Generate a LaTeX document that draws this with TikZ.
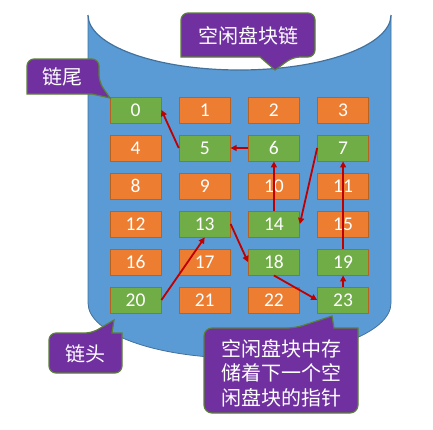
\documentclass[tikz,border=0pt]{standalone}
\usepackage{fontspec}
\setmainfont{Carlito}
\newfontfamily\cjk{Noto Sans CJK SC}
\usepackage{xcolor}
\usepackage{tikz}
\usetikzlibrary{arrows.meta}
\usetikzlibrary{positioning}

\definecolor{cylblue}{HTML}{5B9BD5}
\definecolor{cyledge}{HTML}{41719C}
\definecolor{usedorange}{HTML}{ED7D31}
\definecolor{freegreen}{HTML}{70AD47}
\definecolor{blkedge}{HTML}{B9611F}
\definecolor{notepurple}{HTML}{7030A0}
\definecolor{noteedge}{HTML}{5B7F3A}
\definecolor{linkred}{HTML}{C00000}

\begin{document}
\begin{tikzpicture}[x=1pt, y=-1pt,
    blk/.style={draw=blkedge, line width=0.9pt, minimum width=51pt, minimum height=26pt,
      inner sep=0pt, text=white, font=\fontsize{19.5}{21}\selectfont},
    usedblk/.style={blk, fill=usedorange},
    freeblk/.style={blk, fill=freegreen},
    link/.style={draw=linkred, line width=1.8pt, -{Triangle[length=6pt,width=6pt]}},
    note/.style={fill=notepurple, draw=noteedge, line width=1.2pt},
    notetext/.style={text=white, font=\cjk\fontsize{20}{24.5}\selectfont, align=center}]
  \useasboundingbox (0,0) rectangle (433,429);

  % the cylinder
  \fill[cylblue] (88,15) -- (88,303) arc[start angle=180, end angle=0, x radius=151.5, y radius=55]
    -- (391,15) -- cycle;
  \draw[cyledge, line width=0.8pt] (88,15) -- (88,303) arc[start angle=180, end angle=0, x radius=151.5, y radius=55]
    -- (391,15);
  \fill[white] (88,15) arc[start angle=180, end angle=0, x radius=151.5, y radius=55] -- cycle;
  \draw[cyledge, line width=1.2pt] (88,15) arc[start angle=180, end angle=0, x radius=151.5, y radius=55];

  % the disk blocks
  \foreach \n in {1,2,3,4,8,9,10,11,12,15,16,17,21,22}{
    \pgfmathtruncatemacro\col{mod(\n,4)}
    \pgfmathtruncatemacro\row{\n/4}
    \node[usedblk] (b\n) at (135.5+69.2*\col, 110+38*\row) {\n};
  }
  \foreach \n in {0,5,6,7,13,14,18,19,20,23}{
    \pgfmathtruncatemacro\col{mod(\n,4)}
    \pgfmathtruncatemacro\row{\n/4}
    \node[freeblk] (b\n) at (135.5+69.2*\col, 110+38*\row) {\n};
  }

  % the chain of free blocks
  \draw[link] (b20.east) -- (b13.south);
  \draw[link] (b13.east) -- (b18.west);
  \draw[link] (b18.south) -- (b23.west);
  \draw[link] (b23.north) -- (b19.south);
  \draw[link] (b19.north) -- (b7.south);
  \draw[link] (b7.west) -- (b14.east);
  \draw[link] (b14.north) -- (b6.south);
  \draw[link] (b6.west) -- (b5.east);
  \draw[link] (b5.west) -- (b0.east);

  % the callouts
  \draw[note] (181,35) [rounded corners=7pt] -- (181,13) -- (315,13) -- (315,57) -- (293,57)
    [sharp corners] -- (275,70) -- (260,57) -- (181,57) [rounded corners=7pt] -- cycle;
  \node[notetext] (chainname) at (248,36) {空闲盘块链};

  \draw[note] (27,76) [rounded corners=7pt] -- (27,59) -- (99,59) -- (99,82)
    [sharp corners] -- (110,98) -- (92,94) -- (27,94) [rounded corners=7pt] -- cycle;
  \node[notetext] (tailnote) at (62.5,77) {链尾};

  \draw[note] (49,353) [rounded corners=7pt] -- (49,333) -- (92,333)
    [sharp corners] -- (114,320) -- (112,333) -- (122,333) [rounded corners=7pt] -- (122,373) -- (49,373) -- cycle;
  \node[notetext] (headnote) at (85,354) {链头};

  \draw[note] (204,370) [rounded corners=8pt] -- (204,328) -- (295,328)
    [sharp corners] -- (332,316) -- (334,328) -- (358,328) [rounded corners=8pt] -- (358,413) -- (204,413) -- cycle;
  \node[notetext] (pointernote) at (281.5,373) {空闲盘块中存\\储着下一个空\\闲盘块的指针};
\end{tikzpicture}
\end{document}
